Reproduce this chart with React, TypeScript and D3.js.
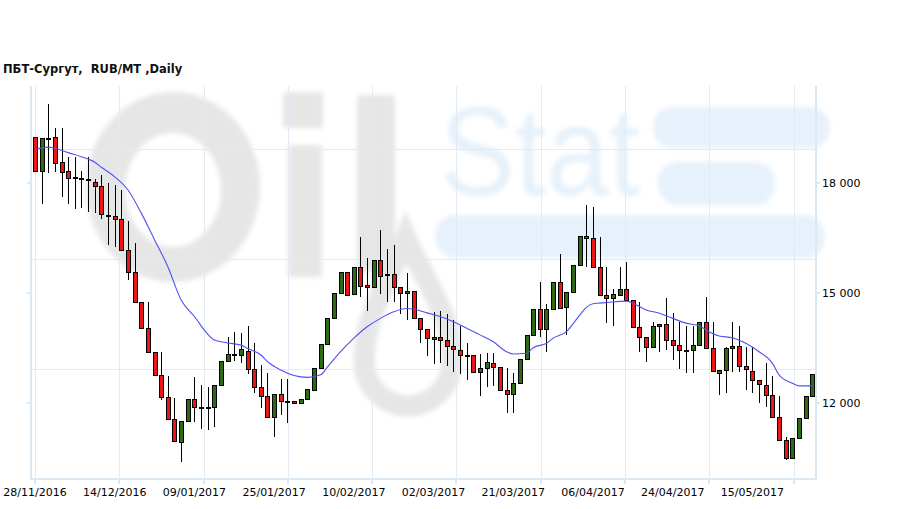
import React from "react";
import * as d3 from "d3";

const title = "ПБТ-Сургут,  RUB/MT ,Daily";

const openV = [
  19240, 18320, 19220, 19240, 18560, 18310, 18150, 18140, 18100, 18030,
  17900, 17130, 17090, 17000, 16160, 15560, 14740, 14030, 13380, 12750,
  12150, 11550, 10920, 11490, 12090, 11870, 11860, 11880, 12480, 13130,
  13320, 13290, 13420, 12920, 12430, 12180, 11620, 12240, 12050, 12040,
  11990, 12100, 12350, 12940, 13590, 14300, 14980, 15570, 14970, 15690,
  15200, 15150, 15880, 15500, 15500, 15160, 14980, 15040, 14320, 14000,
  13740, 13780, 13700, 13540, 13440, 13290, 13300, 12830, 12940, 13080,
  12980, 12340, 12240, 12530, 13180, 13840, 14550, 14000, 14550, 15280,
  14600, 15010, 15750, 16540, 16480, 15690, 14940, 14850, 14940, 15090,
  14790, 14060, 13780, 13520, 14080, 14150, 13720, 13580, 13430, 13430,
  13570, 14190, 13500, 12820, 12890, 13480, 13550, 13000, 12870, 12620,
  12480, 12200, 11600, 10980, 10480, 11030, 11580, 12180,
];
const highV = [
  19240, 19210, 20150, 19500, 19500, 18690, 18690, 18320, 18690, 18100,
  18200, 17980, 17940, 17800, 16950, 16350, 14740, 14740, 13380, 13390,
  12740, 12140, 11500, 12090, 12710, 12480, 12440, 12480, 13130, 13790,
  13940, 13900, 14090, 13620, 13030, 12800, 12230, 12640, 12640, 12040,
  12100, 12370, 12940, 13590, 14300, 14980, 15570, 15570, 15690, 16510,
  15940, 15880, 16700, 16190, 16290, 15160, 15530, 15040, 14320, 14000,
  14480, 14500, 14410, 14260, 14090, 13640, 13300, 13320, 13350, 13350,
  12980, 12940, 12800, 13180, 13840, 14550, 15280, 14690, 15280, 16050,
  15010, 15750, 16540, 17390, 17350, 16510, 15690, 15100, 15690, 15840,
  14790, 14750, 13780, 14210, 14150, 14850, 14440, 14190, 14090, 14090,
  14190, 14890, 14190, 12890, 13530, 14190, 14090, 13530, 13530, 12620,
  13080, 12740, 12190, 11070, 11030, 11580, 12180, 12780,
];
const lowV = [
  18320, 17410, 18270, 18300, 17600, 17410, 17270, 17300, 17210, 17170,
  17000, 16310, 16250, 16160, 15350, 14740, 14000, 13350, 12750, 12070,
  11550, 10960, 10390, 11490, 11480, 11290, 11260, 11350, 12480, 13130,
  13140, 13080, 12780, 12270, 11850, 11600, 11060, 11670, 11440, 11990,
  11990, 12100, 12350, 12940, 13590, 14300, 14980, 14930, 14970, 14890,
  14500, 15150, 14960, 14750, 14750, 14410, 14250, 14320, 13640, 13280,
  13050, 13090, 13000, 12850, 12770, 12620, 12830, 12190, 12440, 12460,
  12340, 11730, 11730, 12530, 13180, 13840, 13800, 13390, 14550, 14570,
  13840, 15010, 15750, 15690, 15690, 14940, 14180, 14100, 14940, 14790,
  14060, 13390, 13100, 13520, 13390, 13440, 13170, 12910, 12800, 12800,
  13570, 13500, 12870, 12210, 12260, 12850, 12850, 12350, 12260, 11980,
  11890, 11600, 10980, 10440, 10480, 11030, 11580, 12180,
];
const closeV = [
  18320, 19210, 19230, 18530, 18280, 18120, 18140, 18130, 18090, 17900,
  17140, 17120, 17000, 16160, 15560, 14740, 14030, 13380, 12750, 12150,
  11550, 10960, 11500, 12090, 11890, 11860, 11890, 12480, 13130, 13320,
  13310, 13460, 12910, 12420, 12180, 11600, 12230, 12050, 12040, 11990,
  12100, 12370, 12940, 13590, 14300, 14980, 15570, 14930, 15690, 15190,
  15150, 15880, 15460, 15490, 15160, 14980, 15040, 14320, 14000, 13760,
  13790, 13700, 13540, 13460, 13290, 13300, 12830, 12940, 13100, 12980,
  12340, 12240, 12530, 13180, 13840, 14550, 14000, 14550, 15280, 14570,
  15010, 15750, 16540, 16480, 15690, 14940, 14860, 14970, 15090, 14790,
  14060, 13780, 13510, 14080, 14150, 13720, 13580, 13430, 13440, 13570,
  14190, 13500, 12870, 12890, 13480, 13550, 13000, 12910, 12620, 12500,
  12200, 11600, 10980, 10480, 11030, 11580, 12180, 12780,
];

// moving average: candle index and value
const maIndex = [
  0, 2, 3, 5, 7, 9, 10, 12, 14, 16, 18, 20, 22, 24, 26, 27, 29, 31, 32, 34,
  35, 37, 39, 41, 43, 44, 46, 48, 50, 52, 54, 56, 57, 59, 61, 63, 65, 67, 69,
  71, 72, 74, 75, 77, 78, 80, 82, 83, 84, 86, 89, 90, 92, 94, 96, 98, 100,
  102, 103, 105, 107, 109, 111, 112, 114, 115, 117,
];
const maValue = [
  18910, 18970, 18940, 18820, 18710, 18560, 18420, 18160, 17800, 17170,
  16440, 15710, 14800, 14350, 13870, 13710, 13630, 13570, 13480, 13300,
  13120, 12890, 12740, 12690, 12760, 12970, 13390, 13760, 14070, 14300,
  14480, 14570, 14550, 14450, 14350, 14210, 14030, 13850, 13660, 13390,
  13330, 13350, 13500, 13620, 13760, 13940, 14390, 14600, 14700, 14730,
  14770, 14710, 14530, 14440, 14300, 14170, 14090, 13890, 13820, 13770,
  13620, 13390, 13080, 12760, 12530, 12460, 12460,
];

const xLabels = [
  "28/11/2016", "14/12/2016", "09/01/2017", "25/01/2017", "10/02/2017",
  "02/03/2017", "21/03/2017", "06/04/2017", "24/04/2017", "15/05/2017",
];
const xLabelIndex = [0, 12, 24, 36, 48, 60, 72, 84, 96, 108];
const yTicks = [12000, 15000, 18000];
const yGridValues = [12910, 15910, 18910];
const xGridStep = 12.69;

const W = 909;
const H = 509;
const L = 31;
const R = 815.7;
const T = 86;
const B = 479;

export default function App() {
  const n = openV.length;
  const x = d3.scaleLinear().domain([0, n - 1]).range([35, 812.2]);
  const y = d3.scaleLinear().domain([12000, 18000]).range([402.7, 182.7]);
  const xGrid = d3.range(0, 10).map((k) => k * xGridStep);
  const fmt = (v: number) => d3.format(",")(v).replace(/,/g, " ");

  const maLine = d3
    .line<number>()
    .x((_, i) => x(maIndex[i]))
    .y((d) => y(d))
    .curve(d3.curveMonotoneX)(maValue);

  const gray = "#e6e6e6";
  const blue = "#e6f1fb";
  const font = "'DejaVu Sans', Verdana, sans-serif";

  return (
    <svg
      width={W}
      height={H}
      style={{ position: "absolute", left: 0, top: 0, background: "#fff" }}
    >
      <defs>
        <filter id="blur" x="-10%" y="-10%" width="120%" height="120%">
          <feGaussianBlur stdDeviation="2.5" />
        </filter>
      </defs>
      <text
        x={3}
        y={73}
        fontFamily={font}
        fontSize={11.5}
        fontWeight="bold"
        fill="#111"
        style={{ whiteSpace: "pre" }}
      >
        {title}
      </text>

      {/* watermark */}
      <g filter="url(#blur)">
        <path
          d="M86,187 a87,95 0 1,0 174,0 a87,95 0 1,0 -174,0 Z M125,190 a48,57 0 1,0 96,0 a48,57 0 1,0 -96,0 Z"
          fill={gray}
          fillRule="evenodd"
        />
        <rect x={283} y={92} width={40} height={36} rx={3} fill={gray} />
        <rect x={288} y={145} width={34} height={132} fill={gray} />
        <rect x={357} y={95} width={38} height={177} fill={gray} />
        <path
          d="M406,238 C424,280 452,315 452,360 A44,46 0 0 1 364,360 C364,315 390,280 406,238 Z"
          fill="none"
          stroke={gray}
          strokeWidth={21}
        />
        <text
          x={440}
          y={195}
          fontFamily="'Liberation Sans', Arial, sans-serif"
          fontSize={126}
          textLength={200}
          lengthAdjust="spacingAndGlyphs"
          fill={blue}
        >
          Stat
        </text>
        <rect x={653} y={107} width={177} height={41} rx={20} fill={blue} />
        <rect x={658} y={162} width={117} height={43} rx={20} fill={blue} />
        <rect x={435} y={215} width={390} height={43} rx={21} fill={blue} />
      </g>

      {/* grid */}
      <g stroke="#e2ebf3" strokeWidth={1} shapeRendering="crispEdges">
        {yGridValues.map((v) => (
          <line key={v} x1={L} x2={R} y1={Math.round(y(v)) + 0.5} y2={Math.round(y(v)) + 0.5} />
        ))}
        {xGrid.map((g) => (
          <line key={g} x1={Math.round(x(g)) + 0.5} x2={Math.round(x(g)) + 0.5} y1={T} y2={B} />
        ))}
      </g>

      {/* axes */}
      <g stroke="#dbe7f1" strokeWidth={2} shapeRendering="crispEdges">
        <line x1={L} x2={L} y1={T} y2={B + 1} />
        <line x1={R} x2={R} y1={T} y2={B + 1} />
        <line x1={L} x2={R} y1={B} y2={B} />
        {yTicks.map((v) => (
          <g key={v}>
            <line x1={27} x2={L} y1={Math.round(y(v))} y2={Math.round(y(v))} />
            <line x1={R} x2={R + 4} y1={Math.round(y(v))} y2={Math.round(y(v))} />
          </g>
        ))}
        {xGrid.map((g) => (
          <line key={g} x1={Math.round(x(g))} x2={Math.round(x(g))} y1={B} y2={B + 5} />
        ))}
      </g>

      {/* candles */}
      <g shapeRendering="crispEdges">
        {openV.map((o, i) => {
          const c = closeV[i];
          const cx = Math.round(x(i));
          const top = Math.round(y(Math.max(o, c)));
          const bot = Math.round(y(Math.min(o, c)));
          const up = c >= o;
          return (
            <g key={i}>
              <line
                x1={cx + 0.5}
                x2={cx + 0.5}
                y1={Math.round(y(highV[i]))}
                y2={Math.round(y(lowV[i]))}
                stroke="#000"
                strokeWidth={1}
              />
              <rect
                x={cx - 2 + 0.5}
                y={top + 0.5}
                width={4}
                height={Math.max(1, bot - top)}
                fill={up ? "#2a6b13" : "#ee1515"}
                stroke="#000"
                strokeWidth={1}
              />
            </g>
          );
        })}
      </g>

      <path d={maLine || ""} fill="none" stroke="#5050f2" strokeWidth={1.1} />

      {/* labels */}
      <g fontFamily={font} fontSize={11} fill="#000">
        {yTicks.map((v) => (
          <text key={v} x={822} y={y(v)} dy="0.35em">
            {fmt(v)}
          </text>
        ))}
        {xLabels.map((s, i) => (
          <text key={s} x={x(xLabelIndex[i])} y={496} textAnchor="middle">
            {s}
          </text>
        ))}
      </g>
    </svg>
  );
}
